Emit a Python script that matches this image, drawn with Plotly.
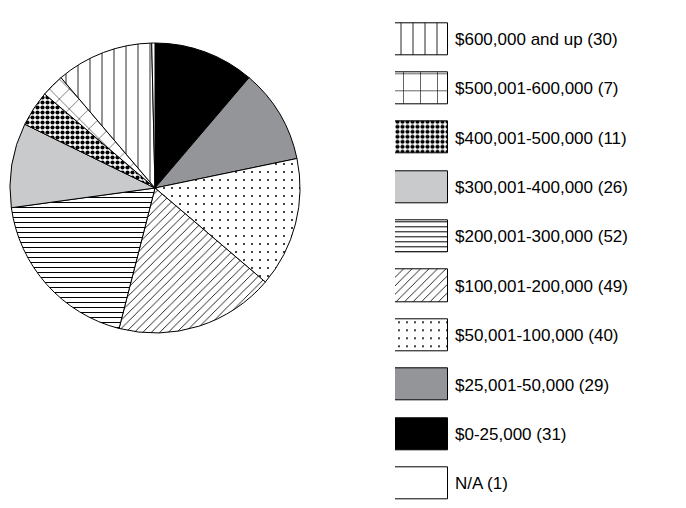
import plotly.graph_objects as go

categories = ["$0-25,000", "$25,001-50,000", "$50,001-100,000", "$100,001-200,000",
              "$200,001-300,000", "$300,001-400,000", "$400,001-500,000",
              "$500,001-600,000", "$600,000 and up", "N/A"]
counts = [31, 29, 40, 49, 52, 26, 11, 7, 30, 1]

fill_colors = ["#000000", "#939598", "#ffffff", "#ffffff", "#ffffff",
               "#c9cacc", "#ffffff", "#ffffff", "#ffffff", "#ffffff"]
pie_shapes = ["", "", ".", "/", "-", "", ".", "x", "|", ""]
key_shapes = ["", "", ".", "/", "-", "", ".", "+", "|", ""]
pie_sizes = [8, 8, 8, 6, 5, 8, 5, 14, 12, 8]
key_sizes = [8, 8, 8, 6, 5, 8, 5, 17, 12, 8]
pat_solid = [0.3, 0.3, 0.05, 0.14, 0.2, 0.3, 0.55, 0.07, 0.07, 0.3]

labels = [f"{c} ({v})" for c, v in zip(categories, counts)]

W, H = 686, 508
fig = go.Figure()

fig.add_trace(go.Pie(
    labels=categories, values=counts, sort=False, direction="clockwise",
    rotation=0, textinfo="none", showlegend=False, hoverinfo="label+value",
    marker=dict(colors=fill_colors, line=dict(color="#000000", width=1),
                pattern=dict(shape=pie_shapes, size=pie_sizes, solidity=pat_solid,
                             fgcolor="#000000", bgcolor=fill_colors, fillmode="replace")),
    domain=dict(x=[10 / W, 300 / W], y=[1 - 333 / H, 1 - 43 / H]),
))

# legend drawn as swatch bars, one per category
for i, lab in enumerate(labels):
    fig.add_trace(go.Bar(
        x=[1], y=[lab], orientation="h", width=0.65,
        showlegend=False, hoverinfo="y",
        marker=dict(color=fill_colors[i], line=dict(color="#000000", width=1),
                    pattern=dict(shape=key_shapes[i], size=key_sizes[i],
                                 solidity=pat_solid[i], fgcolor="#000000",
                                 bgcolor=fill_colors[i], fillmode="replace")),
        xaxis="x", yaxis="y",
    ))

order = labels[8::-1] + [labels[9]]  # top to bottom
fig.update_layout(
    width=W, height=H, margin=dict(l=0, r=0, t=0, b=0),
    paper_bgcolor="white", plot_bgcolor="rgba(0,0,0,0)",
    font=dict(family="Liberation Sans, Arial, sans-serif", size=17, color="#000000"),
    xaxis=dict(domain=[395 / W, 448 / W], range=[0, 1], visible=False, fixedrange=True),
    yaxis=dict(domain=[0, 1 - 14.3 / H], type="category", categoryorder="array",
               categoryarray=order, range=[9.5, -0.5], side="right",
               showgrid=False, zeroline=False, showline=False, ticks="",
               ticklabelstandoff=6, tickfont=dict(size=17), fixedrange=True),
    barmode="overlay", bargap=0,
)

fig.write_html("out.html", config={"displayModeBar": False},
               post_script="document.body.style.margin='0px';")
